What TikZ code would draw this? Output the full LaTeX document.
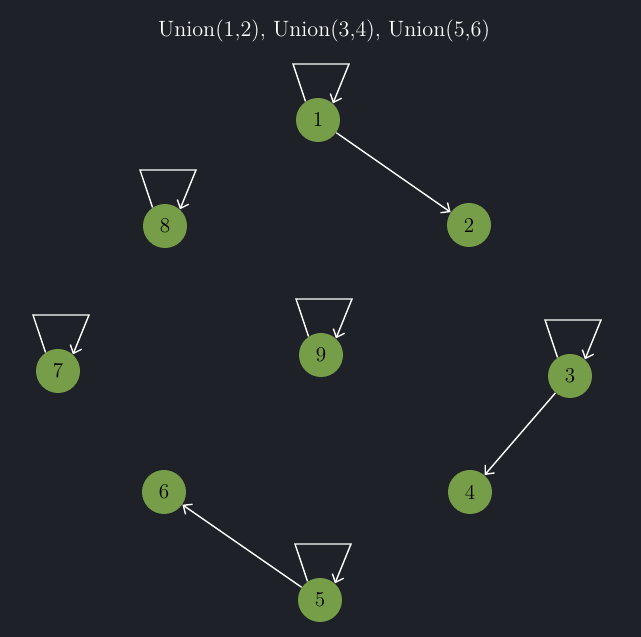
\documentclass[tikz,border=0pt]{standalone}
\usetikzlibrary{arrows.meta,calc}
\definecolor{bgcol}{RGB}{30,33,39}
\definecolor{nodecol}{RGB}{118,158,72}
\begin{document}
\begin{tikzpicture}[
	elem/.style={circle, fill=nodecol, minimum size=0.88cm, inner sep=0pt, font=\large},
	link/.style={draw=white, line width=0.8pt, -{Straight Barb[length=4pt,width=7pt]}}
]
	\pgfmathsetmacro{\W}{12.82}
	\pgfmathsetmacro{\Ht}{12.74}
	\fill[bgcol] (0,0) rectangle (\W,\Ht);
	\useasboundingbox (0,0) rectangle (\W,\Ht);
	\node[white, font=\fontsize{12.6}{15}\selectfont] (title) at (6.48,12.12) {Union(1,2), Union(3,4), Union(5,6)};
	% elements
	\node[elem] (n1) at (6.36,10.34) {1};
	\node[elem] (n2) at (9.38,8.24) {2};
	\node[elem] (n8) at (3.30,8.22) {8};
	\node[elem] (n7) at (1.16,5.32) {7};
	\node[elem] (n9) at (6.42,5.64) {9};
	\node[elem] (n3) at (11.40,5.22) {3};
	\node[elem] (n6) at (3.28,2.90) {6};
	\node[elem] (n4) at (9.40,2.90) {4};
	\node[elem] (n5) at (6.40,0.74) {5};
	% self loops
	\foreach \n in {n1,n8,n7,n9,n3,n5}{
		\draw[link] (\n.124) -- ($(\n.center)+(-0.5,1.12)$) -- ($(\n.center)+(0.62,1.12)$) -- (\n.48);
	}
	% unions
	\draw[link] (n1) -- (n2);
	\draw[link] (n3) -- (n4);
	\draw[link] (n5) -- (n6);
\end{tikzpicture}
\end{document}
